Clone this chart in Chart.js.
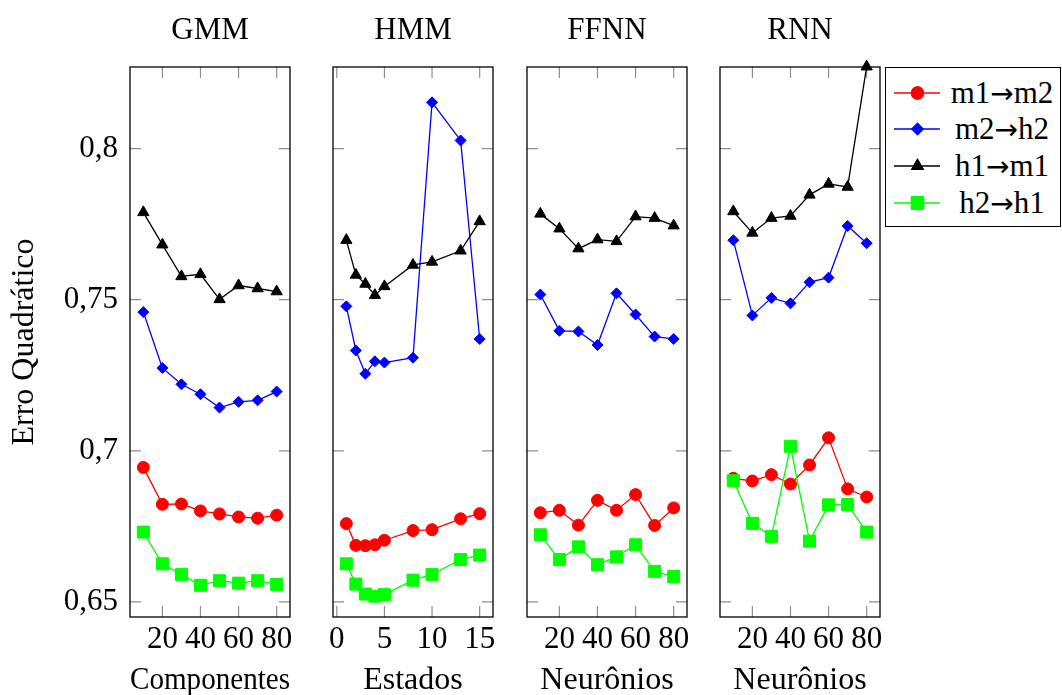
<!DOCTYPE html>
<html>
<head>
<meta charset="utf-8">
<script src="https://cdn.jsdelivr.net/npm/chart.js"></script>
<style>
  body { margin: 0; padding: 0; background: white; }
  #wrap { position: relative; width: 1062px; height: 695px; overflow: hidden; font-family: "Liberation Serif", serif; }
  canvas { position: absolute; top: 0; }
  #legend { position: absolute; left: 885px; top: 67px; width: 174px; height: 158px; border: 1.3px solid #000; background: #fff; }
  .row { position: absolute; left: 0; width: 174px; height: 36px; }
  .row canvas { position: absolute; left: 6px; top: 0; }
  .row span { position: absolute; left: 58px; width: 116px; text-align: center; font-size: 31px; line-height: 36px; top: 0; white-space: nowrap; }
  .row span i { font-style: normal; font-family: "DejaVu Sans", sans-serif; font-size: 28px; }
</style>
</head>
<body>
<div id="wrap">
  <canvas id="gmm" width="305" height="695" style="left:0px"></canvas>
  <canvas id="hmm" width="190" height="695" style="left:318px"></canvas>
  <canvas id="ffnn" width="190" height="695" style="left:512px"></canvas>
  <canvas id="rnn" width="190" height="695" style="left:705px"></canvas>
  <div id="legend"></div>
</div>
<script>
// x values of each panel
const componentes = [10, 20, 30, 40, 50, 60, 70, 80];
const estados = [1, 2, 3, 4, 5, 8, 10, 13, 15];
const neuronios = [10, 20, 30, 40, 50, 60, 70, 80];

// tick labels
const yTicks = [0.65, 0.7, 0.75, 0.8];
const xTicksN = [20, 40, 60, 80];
const xTicksE = [0, 5, 10, 15];

const seriesNames = ["m1\u2192m2", "m2\u2192h2", "h1\u2192m1", "h2\u2192h1"];

// GMM
const gmmM1M2 = [0.6945, 0.6823, 0.6824, 0.6801, 0.6791, 0.6781, 0.6777, 0.6787];
const gmmM2H2 = [0.7459, 0.7274, 0.7220, 0.7187, 0.7143, 0.7162, 0.7167, 0.7196];
const gmmH1M1 = [0.7789, 0.7682, 0.7577, 0.7584, 0.7501, 0.7547, 0.7537, 0.7527];
const gmmH2H1 = [0.6731, 0.6626, 0.6591, 0.6555, 0.6570, 0.6562, 0.6570, 0.6558];

// HMM
const hmmM1M2 = [0.6759, 0.6687, 0.6686, 0.6689, 0.6704, 0.6736, 0.6739, 0.6775, 0.6792];
const hmmM2H2 = [0.7478, 0.7332, 0.7255, 0.7296, 0.7292, 0.7308, 0.8153, 0.8027, 0.7370];
const hmmH1M1 = [0.7697, 0.7582, 0.7552, 0.7515, 0.7544, 0.7615, 0.7625, 0.7662, 0.7759];
const hmmH2H1 = [0.6626, 0.6559, 0.6526, 0.6519, 0.6524, 0.6572, 0.6591, 0.6640, 0.6655];

// FFNN
const ffnnM1M2 = [0.6795, 0.6803, 0.6754, 0.6836, 0.6803, 0.6855, 0.6753, 0.6811];
const ffnnM2H2 = [0.7517, 0.7397, 0.7395, 0.7350, 0.7521, 0.7451, 0.7378, 0.7370];
const ffnnH1M1 = [0.7784, 0.7735, 0.7669, 0.7699, 0.7693, 0.7775, 0.7770, 0.7745];
const ffnnH2H1 = [0.6722, 0.6640, 0.6682, 0.6623, 0.6649, 0.6689, 0.6601, 0.6584];

// RNN
const rnnM1M2 = [0.6909, 0.6900, 0.6921, 0.6890, 0.6953, 0.7043, 0.6874, 0.6847];
const rnnM2H2 = [0.7697, 0.7448, 0.7506, 0.7488, 0.7558, 0.7573, 0.7744, 0.7687];
const rnnH1M1 = [0.7792, 0.7721, 0.7770, 0.7777, 0.7847, 0.7883, 0.7873, 0.8271];
const rnnH2H1 = [0.6901, 0.6760, 0.6717, 0.7015, 0.6701, 0.6821, 0.6822, 0.6731];

const FAMILY = "'Liberation Serif', serif";
const TICK_FONT = { family: FAMILY, size: 31, lineHeight: 1.2 };
const TITLE_FONT = { family: FAMILY, size: 31, lineHeight: 1.2 };
const AXIS_FONT = { family: FAMILY, size: 32, lineHeight: 1.2 };
const styles = [
  { color: "#ff0000", pointStyle: "circle", radius: 6 },
  { color: "#0000ff", pointStyle: "rectRot", radius: 5.5 },
  { color: "#000000", pointStyle: "triangle", radius: 6.5 },
  { color: "#00ff00", pointStyle: "rect", radius: 8.5 },
];

// box around each panel plus inward ticks on all four sides
const framePlugin = {
  id: "frame",
  beforeDatasetsDraw(chart) {
    const { ctx, chartArea: a, scales } = chart;
    const len = 11;
    ctx.save();
    ctx.strokeStyle = "#8f8f8f";
    ctx.lineWidth = 1.2;
    ctx.beginPath();
    scales.x.ticks.forEach(t => {
      const px = scales.x.getPixelForValue(t.value);
      ctx.moveTo(px, a.bottom); ctx.lineTo(px, a.bottom - len);
      ctx.moveTo(px, a.top); ctx.lineTo(px, a.top + len);
    });
    scales.y.ticks.forEach(t => {
      const py = scales.y.getPixelForValue(t.value);
      ctx.moveTo(a.left, py); ctx.lineTo(a.left + len, py);
      ctx.moveTo(a.right, py); ctx.lineTo(a.right - len, py);
    });
    ctx.stroke();
    ctx.strokeStyle = "#000";
    ctx.lineWidth = 1.3;
    ctx.strokeRect(a.left, a.top, a.right - a.left, a.bottom - a.top);
    ctx.restore();
  },
};

function makePanel(id, title, xLabel, xs, series, xMin, xMax, xTicks, first) {
  const datasets = series.map((vals, i) => ({
    label: seriesNames[i],
    data: xs.map((x, j) => ({ x: x, y: vals[j] })),
    borderColor: styles[i].color,
    backgroundColor: styles[i].color,
    pointBackgroundColor: styles[i].color,
    pointBorderColor: styles[i].color,
    pointBorderWidth: 1,
    pointStyle: styles[i].pointStyle,
    pointRadius: styles[i].radius,
    borderWidth: 1.3,
    tension: 0,
    clip: false,
    order: 3 - i,
  }));

  new Chart(document.getElementById(id), {
    type: "line",
    data: { datasets },
    options: {
      responsive: false,
      animation: false,
      layout: { padding: { left: first ? 0 : 15, right: 15, top: 0, bottom: 0 } },
      plugins: {
        legend: { display: false },
        tooltip: { enabled: false },
        title: {
          display: true, text: title, color: "#000", fullSize: false,
          font: { ...TITLE_FONT, weight: "normal" },
          padding: { top: 11.9, bottom: 17.9 },
        },
      },
      scales: {
        x: {
          type: "linear", min: xMin, max: xMax,
          grid: { display: false, drawTicks: false },
          border: { display: false },
          afterBuildTicks: s => { s.ticks = xTicks.map(v => ({ value: v })); },
          afterFit: s => { s.height = 78; },
          ticks: { color: "#000", font: TICK_FONT, padding: 4, maxRotation: 0, autoSkip: false },
          title: { display: true, text: xLabel, color: "#000", font: { ...AXIS_FONT, lineHeight: 0.8 }, padding: { top: 0, bottom: 2 } },
        },
        y: {
          display: first,
          min: 0.645, max: 0.827,
          grid: { display: false, drawTicks: false },
          border: { display: false },
          afterBuildTicks: s => { s.ticks = yTicks.map(v => ({ value: v })); },
          afterFit: s => { s.width = first ? 130 : 0; },
          ticks: {
            color: "#000", font: TICK_FONT, padding: 12,
            callback: v => String(v).replace(".", ","),
          },
          title: { display: first, text: "Erro Quadrático", color: "#000", font: AXIS_FONT, padding: { top: 5.8, bottom: 0 } },
        },
      },
    },
    plugins: [framePlugin],
  });
}

makePanel("gmm", "GMM", "Componentes", componentes, [gmmM1M2, gmmM2H2, gmmH1M1, gmmH2H1], 3, 87, xTicksN, true);
makePanel("hmm", "HMM", "Estados", estados, [hmmM1M2, hmmM2H2, hmmH1M1, hmmH2H1], -0.4, 16.4, xTicksE, false);
makePanel("ffnn", "FFNN", "Neurônios", neuronios, [ffnnM1M2, ffnnM2H2, ffnnH1M1, ffnnH2H1], 3, 87, xTicksN, false);
makePanel("rnn", "RNN", "Neurônios", neuronios, [rnnM1M2, rnnM2H2, rnnH1M1, rnnH2H1], 3, 87, xTicksN, false);

// legend box at the right of the last panel
const legend = document.getElementById("legend");
seriesNames.forEach((name, i) => {
  const row = document.createElement("div");
  row.className = "row";
  row.style.top = (6.7 + i * 36.7) + "px";
  const c = document.createElement("canvas");
  c.width = 48; c.height = 36;
  const ctx = c.getContext("2d");
  ctx.strokeStyle = styles[i].color;
  ctx.lineWidth = 1.3;
  ctx.beginPath(); ctx.moveTo(2, 18); ctx.lineTo(48, 18); ctx.stroke();
  ctx.fillStyle = styles[i].color;
  Chart.helpers.drawPoint(ctx, { pointStyle: styles[i].pointStyle, radius: styles[i].radius, borderWidth: 1 }, 25.5, 18);
  ctx.fill(); ctx.stroke();
  const s = document.createElement("span");
  const parts = name.split("\u2192");
  s.appendChild(document.createTextNode(parts[0]));
  const arrow = document.createElement("i");
  arrow.textContent = "\u2192";
  s.appendChild(arrow);
  s.appendChild(document.createTextNode(parts[1]));
  row.appendChild(c); row.appendChild(s);
  legend.appendChild(row);
});
</script>
</body>
</html>
